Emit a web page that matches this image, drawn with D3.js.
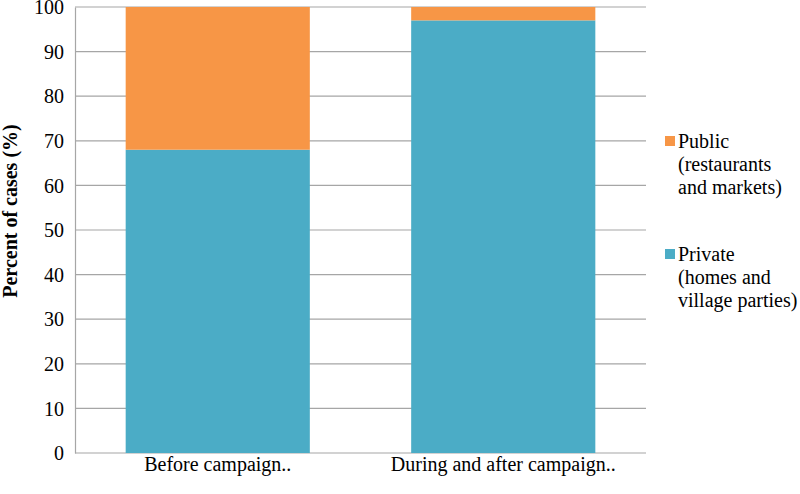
<!DOCTYPE html>
<html><head><meta charset="utf-8">
<script src="https://cdn.jsdelivr.net/npm/d3@7"></script>
<style>body{margin:0;background:#fff}svg{display:block}svg text, svg tspan{font-family:"Liberation Serif","Times New Roman",serif !important;fill:#000}</style>
</head><body><svg id="c" width="800" height="494"></svg>
<script>
const categories = ["Before campaign..", "During and after campaign.."];
const privateVals = [68, 97];
const publicVals = [32, 3];
const seriesNames = ["Private", "Public"];
const legendLabels = [["Public", "(restaurants", "and markets)"], ["Private", "(homes and", "village parties)"]];
const yTicks = [0,10,20,30,40,50,60,70,80,90,100];
const colors = {Private:"#4BACC6", Public:"#F79646"};

const svg = d3.select("#c");
const L = 75, R = 646, T = 7, B = 453;
const x = d3.scaleBand().domain(categories).range([L, R]).paddingInner(0.355).paddingOuter(0.1775);
const y = d3.scaleLinear().domain([0, 100]).range([B, T]);

// gridlines
svg.append("g").selectAll("line").data(yTicks).join("line")
  .attr("x1", L).attr("x2", R).attr("y1", d => y(d)).attr("y2", d => y(d))
  .attr("stroke", "#A6A6A6").attr("stroke-width", 1.2);

const rows = categories.map((c, i) => ({cat: c, Private: privateVals[i], Public: publicVals[i]}));
const stacked = d3.stack().keys(seriesNames)(rows);
svg.append("g").selectAll("g").data(stacked).join("g")
  .attr("fill", d => colors[d.key])
  .selectAll("rect").data(d => d).join("rect")
  .attr("x", d => x(d.data.cat)).attr("width", x.bandwidth())
  .attr("y", d => y(d[1])).attr("height", d => y(d[0]) - y(d[1]));

// axis
const yAxis = svg.append("g").attr("transform", `translate(${L},0)`)
  .call(d3.axisLeft(y).tickValues(yTicks).tickSize(0).tickPadding(11));
yAxis.attr("font-family", null).attr("font-size", null);
yAxis.select(".domain").attr("stroke", "#A6A6A6").attr("stroke-width", 1.2);
yAxis.selectAll("text").style("font-size", "20px").attr("dy", "0.33em");

const xAxis = svg.append("g").attr("transform", `translate(0,${B})`)
  .call(d3.axisBottom(x).tickSize(0).tickPadding(4));
xAxis.attr("font-family", null).attr("font-size", null);
xAxis.select(".domain").remove();
xAxis.selectAll("text").style("font-size", "20px");

svg.append("text").attr("transform", `translate(17,211) rotate(-90)`)
  .attr("text-anchor", "middle").attr("font-weight", "bold").style("font-size", "20px")
  .text("Percent of cases (%)");

// legend
const legendKeys = ["Public", "Private"];
const lg = svg.append("g").selectAll("g").data(legendKeys).join("g")
  .attr("transform", (d, i) => `translate(665,${141 + i * 113})`);
lg.append("rect").attr("x", 0).attr("y", -5).attr("width", 10).attr("height", 10).attr("fill", d => colors[d]);
lg.append("text").style("font-size", "20px").selectAll("tspan")
  .data((d, i) => legendLabels[i]).join("tspan")
  .attr("x", 13).attr("y", (d, j) => j * 23).attr("dy", "0.33em").text(d => d);
</script></body></html>
